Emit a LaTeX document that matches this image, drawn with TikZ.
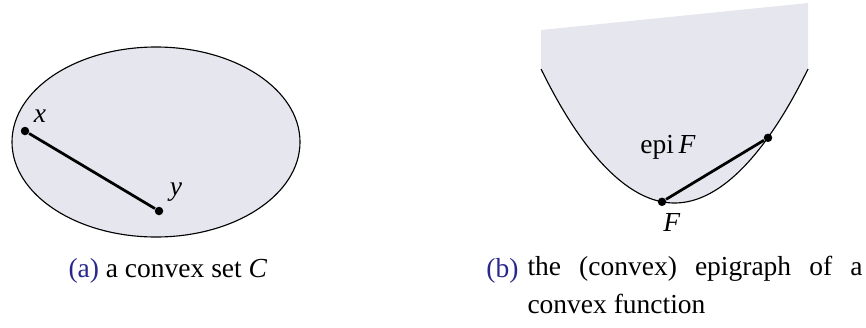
\documentclass[tikz,border=0pt]{standalone}
\usepackage{fontspec}
\setmainfont{Liberation Serif}
\usepackage{xcolor}
\definecolor{cvxgray}{RGB}{230,230,239}
\definecolor{cvxblue}{RGB}{40,40,140}
\usetikzlibrary{positioning}
\tikzset{
  dot/.style={circle, fill=black, inner sep=0pt, minimum size=3.4pt},
  chord/.style={line width=1.1pt},
  boundary/.style={line width=0.45pt},
  lbl/.style={inner sep=0pt, font=\fontsize{11}{15}\selectfont},
}
\begin{document}
\begin{tikzpicture}[x=0.4pt, y=-0.4pt]
  \useasboundingbox (0,0) rectangle (866,327);

  % (a) convex set
  \draw[boundary, fill=cvxgray] (156,142) ellipse [x radius=144, y radius=95];
  \node[dot] (px) at (25,131) {};
  \node[dot] (py) at (159,211) {};
  \draw[chord] (px) -- (py);
  \node[lbl] (lx) at (40,116) {\textit{x}};
  \node[lbl] (ly) at (176,192) {\textit{y}};

  % (b) epigraph
  \fill[cvxgray] (541,69) parabola bend (674.5,203) (808,69)
       -- (808,3) -- (541,30) -- cycle;
  \draw[boundary] (541,69) parabola bend (674.5,203) (808,69);
  \node[dot] (pf) at (662,201.8) {};
  \node[dot] (pq) at (768,137.8) {};
  \draw[chord] (pf) -- (pq);
  \node[lbl] (lepi) at (668,147) {epi\,\textit{F}};
  \node[lbl] (lf) at (672,222) {\textit{F}};

  % captions
  \node[lbl, anchor=base west] (capa) at (68,277)
       {\textcolor{cvxblue}{(a)} a convex set \textit{C}};
  \node[lbl, anchor=base east, text=cvxblue] (tagb) at (519,277) {(b)};
  \node[lbl, anchor=north west, text width=134pt, align=justify] (capb) at (527,256)
       {the (convex) epigraph of a\linebreak convex function};
\end{tikzpicture}
\end{document}
